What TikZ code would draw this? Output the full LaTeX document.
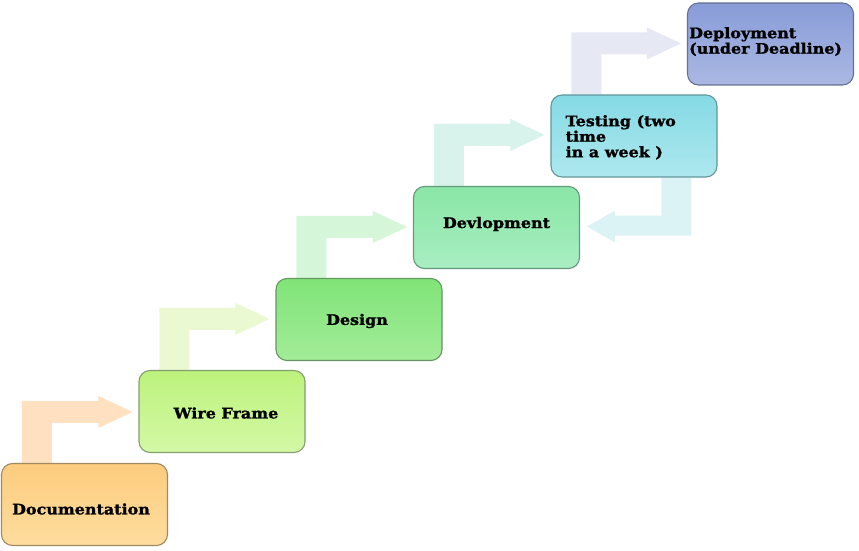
\documentclass[tikz,border=0pt]{standalone}
\usepackage{fontspec}
\newfontfamily\lblfont{DejaVu Serif}[FakeStretch=1.1, BoldFeatures={FakeBold=1.3}]
\usetikzlibrary{calc,backgrounds}
\definecolor{docT}{HTML}{FCCC7E}\definecolor{docB}{HTML}{FEDD9E}\definecolor{docD}{HTML}{A08A62}
\definecolor{wirT}{HTML}{BCF27C}\definecolor{wirB}{HTML}{D4F8A6}\definecolor{wirD}{HTML}{849E70}
\definecolor{desT}{HTML}{80E478}\definecolor{desB}{HTML}{A2EC98}\definecolor{desD}{HTML}{669664}
\definecolor{devT}{HTML}{8AE6A6}\definecolor{devB}{HTML}{A8EEC2}\definecolor{devD}{HTML}{66987C}
\definecolor{tstT}{HTML}{84DAE4}\definecolor{tstB}{HTML}{AEE8EE}\definecolor{tstD}{HTML}{62969C}
\definecolor{dplT}{HTML}{889CD8}\definecolor{dplB}{HTML}{AAB8E2}\definecolor{dplD}{HTML}{667090}
\definecolor{arA}{HTML}{FFE1C2}
\definecolor{arB}{HTML}{EAF9D2}
\definecolor{arC}{HTML}{D6F6DA}
\definecolor{arD}{HTML}{D8F3EC}
\definecolor{arE}{HTML}{DCF3F5}
\definecolor{arF}{HTML}{E6E8F4}
\newcommand\steparrow[3]{\fill[#3] let \p1=(#1.north west), \p2=(#2.west) in
  (\x1+21pt,\y1) -- (\x1+21pt,\y1+62pt) -- (\x2-40pt,\y1+62pt) -- (\x2-40pt,\y1+67pt)
  -- (\x2-6pt,\y1+51pt) -- (\x2-40pt,\y1+35pt) -- (\x2-40pt,\y1+40pt)
  -- (\x1+51pt,\y1+40pt) -- (\x1+51pt,\y1) -- cycle;}
\begin{document}
\begin{tikzpicture}[x=1pt,y=1pt,
  box/.style={rounded corners=11pt, minimum width=166pt, minimum height=82pt, inner sep=0pt, line width=1.1pt},
  lbl/.style={font=\lblfont\bfseries\fontsize{14.5}{15.5}\selectfont, inner sep=0pt, text=black, align=left}]
\useasboundingbox (0,0) rectangle (859,550);
\node[box, top color=docT, bottom color=docB, draw=docD] (doc) at (84.5,45.5) {};
\node[box, top color=wirT, bottom color=wirB, draw=wirD] (wire) at (222,138.5) {};
\node[box, top color=desT, bottom color=desB, draw=desD] (des) at (359,230.5) {};
\node[box, top color=devT, bottom color=devB, draw=devD] (dev) at (496.5,322.5) {};
\node[box, top color=tstT, bottom color=tstB, draw=tstD] (tst) at (634,414) {};
\node[box, top color=dplT, bottom color=dplB, draw=dplD] (dpl) at (770.5,506) {};
\node[lbl] (doct) at ($(doc.center)+(-3.5,-4.5)$) {Documentation};
\node[lbl] (wiret) at ($(wire.center)+(4,-1.5)$) {Wire Frame};
\node[lbl] (dest) at ($(des.center)+(-2,-1.5)$) {Design};
\node[lbl] (devt) at ($(dev.center)+(0,3.5)$) {Devlopment};
\node[lbl, anchor=north west] (tstt) at ($(tst.north west)+(15,-20.5)$) {Testing (two\\time\\in a week )};
\node[lbl, anchor=north west] (dplt) at ($(dpl.north west)+(2,-24.5)$) {Deployment\\(under Deadline)};
\begin{scope}[on background layer]
\steparrow{doc}{wire}{arA}
\steparrow{wire}{des}{arB}
\steparrow{des}{dev}{arC}
\steparrow{dev}{tst}{arD}
\steparrow{tst}{dpl}{arF}
\fill[arE] let \p1=(tst.south west), \p2=(dev.east) in
  (\x1+111pt,\y1) -- (\x1+141pt,\y1) -- (\x1+141pt,\y1-58pt) -- (\x2+35pt,\y1-58pt)
  -- (\x2+35pt,\y1-65pt) -- (\x2+7pt,\y1-49pt) -- (\x2+35pt,\y1-33pt)
  -- (\x2+35pt,\y1-38pt) -- (\x1+111pt,\y1-38pt) -- cycle;
\end{scope}
\end{tikzpicture}
\end{document}
